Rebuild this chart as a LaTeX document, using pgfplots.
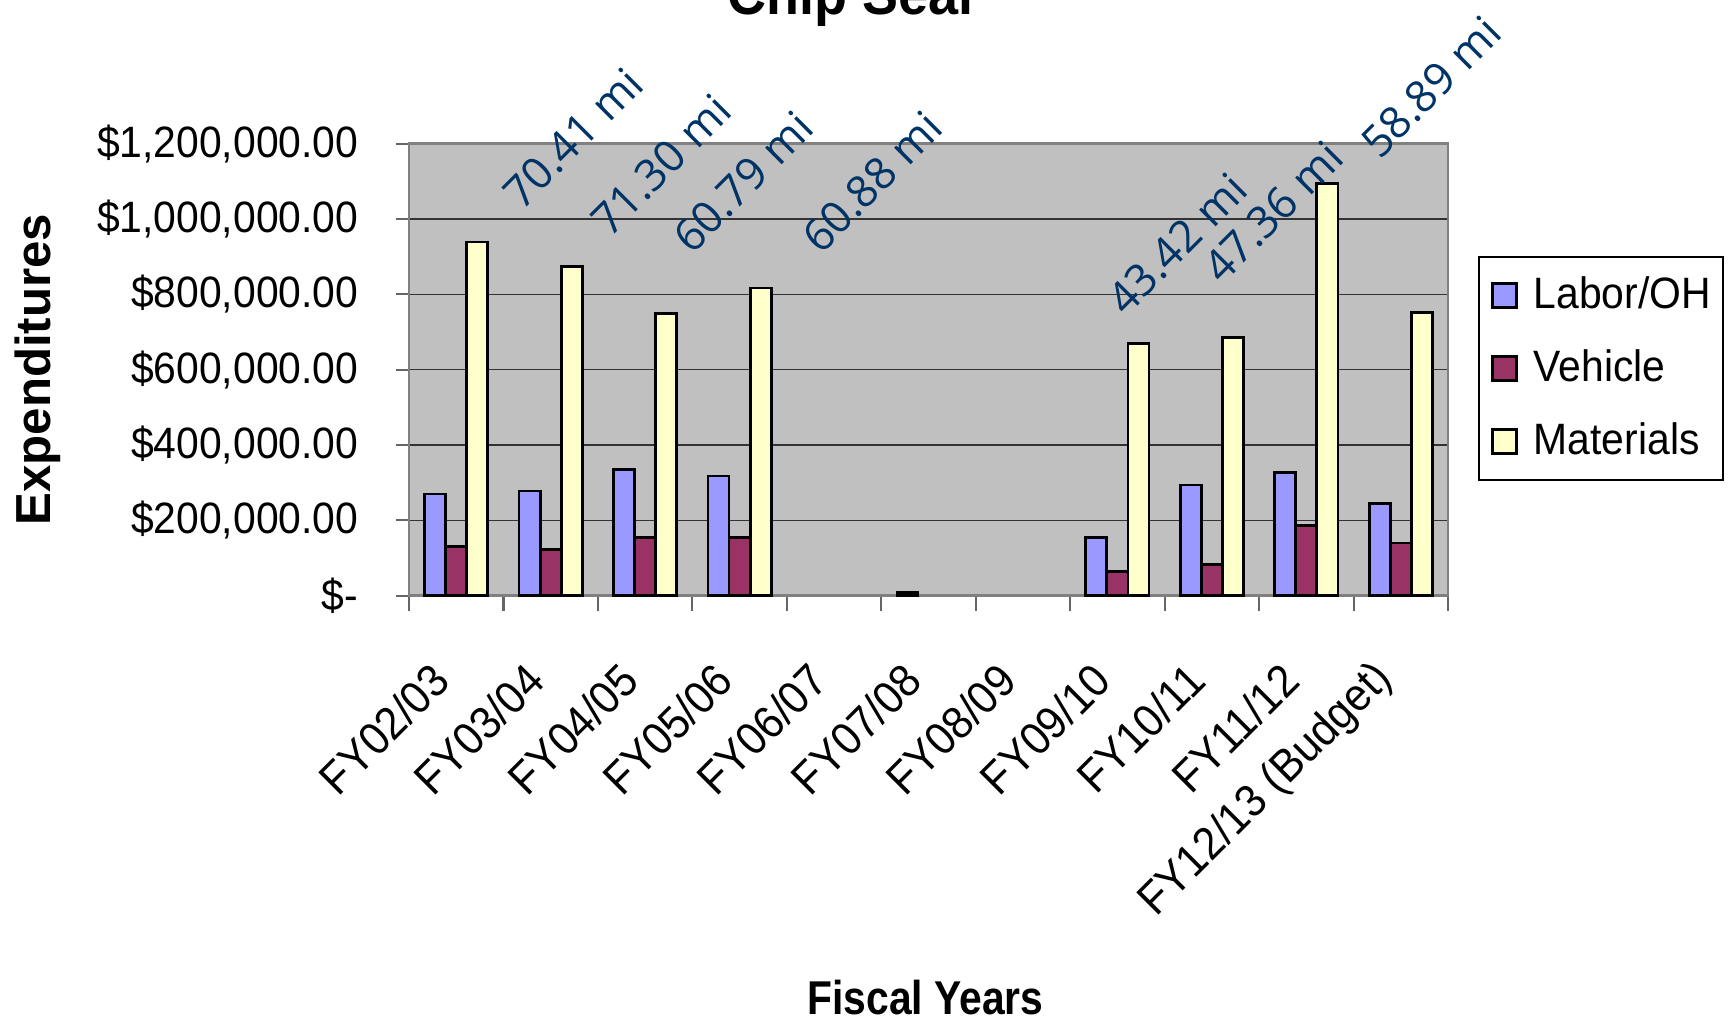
\documentclass[border=0pt]{standalone}
\usepackage{fontspec}
\setmainfont{Liberation Sans}[FakeStretch=0.93]
\newfontfamily\plainsans{Liberation Sans}
\newfontfamily\condsans{Liberation Sans}[FakeStretch=0.86]
\newfontfamily\annofont{Open Sans}
\usepackage{pgfplots}
\pgfplotsset{compat=1.18}

\definecolor{labor}{HTML}{9999FF}
\definecolor{vehicle}{HTML}{993366}
\definecolor{materials}{HTML}{FFFFCC}
\definecolor{plotbg}{HTML}{C0C0C0}
\definecolor{annot}{HTML}{003366}
\definecolor{framegray}{HTML}{808080}

\begin{document}
\begin{tikzpicture}
\begin{axis}[
  at={(4.09cm,4.263cm)}, anchor=south west,
  scale only axis, width=10.39cm, height=4.52cm,
  xmin=-0.5, xmax=10.5, ymin=0, ymax=1200000,
  clip=false,
  ybar=0pt, bar width=0.223,
  every axis plot post/.append style={
    legend image code/.code={\draw[##1, line width=0.8pt] (0cm,-0.12cm) rectangle (0.24cm,0.12cm);}},
  axis background/.style={fill=plotbg},
  axis line style={framegray, line width=0.8pt},
  ymajorgrids, grid style={black!80, line width=0.45pt},
  tick pos=left,
  tick align=outside, major tick length=0.13cm, minor tick length=0.15cm,
  tick style={black!60, line width=0.6pt},
  xtick={0,...,10},
  xticklabels={FY02/03,FY03/04,FY04/05,FY05/06,FY06/07,FY07/08,FY08/09,FY09/10,FY10/11,FY11/12,FY12/13 (Budget)},
  major x tick style={draw=none},
  minor xtick={-0.5,0.5,...,10.5},
  ytick={0,200000,...,1200000}, scaled y ticks=false,
  yticklabels={\$-,{\$200,000.00},{\$400,000.00},{\$600,000.00},{\$800,000.00},{\$1,000,000.00},{\$1,200,000.00}},
  yticklabel style={font=\fontsize{12.5}{14}\selectfont, anchor=east, inner sep=0pt, xshift=-0.37cm},
  xticklabel style={font=\fontsize{13}{15}\selectfont, inner sep=0pt, anchor=east, xshift=-0.15cm, yshift=-0.63cm, rotate=45},
  ylabel={Expenditures},
  ylabel style={at={(axis description cs:-0.357,0.5)}, anchor=center, font=\plainsans\bfseries\fontsize{14}{16}\selectfont},
  xlabel={Fiscal Years},
  xlabel style={at={(axis description cs:0.497,-0.888)}, anchor=center, font=\condsans\bfseries\fontsize{13.5}{16}\selectfont},
  title={Chip Seal},
  title style={at={(axis description cs:0.425,1.24)}, anchor=base, font=\bfseries\fontsize{16.5}{19}\selectfont},
  legend style={at={(1.029,0.7515)}, anchor=north west, draw=black, line width=0.5pt, fill=white,
    font=\fontsize{12.5}{14}\selectfont, inner xsep=0.12cm, inner ysep=0.2cm,
    row sep=0.36cm, column sep=0.16cm, cells={anchor=west}, nodes={inner sep=0pt}},
]
\addplot[fill=labor, draw=black, line width=0.8pt] coordinates {(0,270000) (1,278000) (2,334000) (3,318000) (5,8000) (7,155000) (8,294000) (9,328000) (10,245000)};
\addplot[fill=vehicle, draw=black, line width=0.8pt] coordinates {(0,130000) (1,122000) (2,155000) (3,155000) (7,65000) (8,82000) (9,187000) (10,140000)};
\addplot[fill=materials, draw=black, line width=0.8pt] coordinates {(0,939000) (1,873000) (2,750000) (3,817000) (7,669000) (8,686000) (9,1094000) (10,751000)};
\legend{Labor/OH,Vehicle,Materials}

\begin{scope}[every node/.style={rotate=45, font=\annofont\fontsize{12.5}{15}\selectfont, text=annot}]
\node at (axis cs:1.236,1215000) {70.41 mi};
\node at (axis cs:2.168,1143500) {71.30 mi};
\node at (axis cs:3.036,1098300) {60.79 mi};
\node at (axis cs:4.402,1098300) {60.88 mi};
\node at (axis cs:7.631,933700) {43.42 mi};
\node at (axis cs:8.648,1018700) {47.36 mi};
\node at (axis cs:10.32,1350500) {58.89 mi};
\end{scope}
\end{axis}
\pgfresetboundingbox
\path[use as bounding box] (0,0) rectangle (17.33,10.22);
\end{tikzpicture}
\end{document}
